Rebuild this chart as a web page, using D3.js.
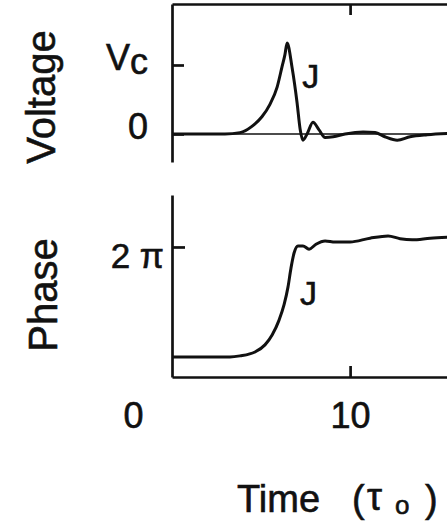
<!DOCTYPE html>
<html>
<head>
<meta charset="utf-8">
<script src="https://cdn.jsdelivr.net/npm/d3@7"></script>
<style>
  body { margin: 0; background: #fff; }
  svg { display: block; font-family: "Liberation Sans", Arial, sans-serif; }
  svg text { stroke: #111; stroke-width: 0.6px; }
</style>
</head>
<body>
<svg id="chart" width="447" height="521"></svg>
<script>
// time in units of tau_0
const voltageTime = [1.8, 4.24, 4.93, 5.48, 5.94, 6.31, 6.64, 6.87, 7.0, 7.10, 7.33, 7.56, 7.70, 7.83, 8.02, 8.29, 8.57, 8.85, 9.22, 9.77, 10.6, 11.15, 11.6, 12.17, 12.76, 13.55, 14.6];
// voltage in units of Vc
const voltageValues = [0, 0, 0.02, 0.11, 0.25, 0.43, 0.68, 0.98, 1.15, 1.32, 0.96, 0.45, 0.07, -0.09, 0.0, 0.17, 0.06, -0.05, -0.04, 0.0, 0.03, 0.02, -0.04, -0.09, -0.04, -0.01, 0.01];

const phaseTime = [1.8, 4.47, 4.93, 5.62, 6.08, 6.41, 6.73, 6.96, 7.14, 7.28, 7.42, 7.60, 7.83, 8.11, 8.43, 8.85, 9.31, 10.0, 10.92, 11.75, 12.30, 12.86, 13.69, 14.6];
// phase in units of pi
const phaseValues = [0, 0, 0.02, 0.09, 0.22, 0.40, 0.67, 0.95, 1.27, 1.62, 1.89, 2.02, 2.02, 1.96, 2.05, 2.11, 2.09, 2.09, 2.16, 2.20, 2.15, 2.13, 2.16, 2.18];

const timeTicks = [0, 10];
const voltageTicks = [0, 1];
const voltageTickLabels = ["0", "Vc"];
const phaseTicks = [2];
const phaseTickLabels = ["2 π"];

const ink = "#111";
const svg = d3.select("#chart");

svg.append("rect").attr("width", 447).attr("height", 521).attr("fill", "#fff");

/**
 * scales
 */
const x = d3.scaleLinear().domain([1.8, 14.6]).range([172, 450]);
const yV = d3.scaleLinear().domain([-0.406, 1.884]).range([162, 4]);
const yP = d3.scaleLinear().domain([-0.364, 2.945]).range([377, 195]);

function styleAxis(g) {
    g.select(".domain").attr("stroke", ink).attr("stroke-width", 2.7);
    g.selectAll(".tick line").attr("stroke", ink).attr("stroke-width", 2.7);
    g.selectAll("text").attr("fill", ink).attr("font-size", 36);
    return g;
}

// ---- voltage panel ----
// zero reference line
svg.append("line")
    .attr("x1", x(1.8)).attr("x2", x(14.6))
    .attr("y1", yV(0)).attr("y2", yV(0))
    .attr("stroke", ink).attr("stroke-width", 1.7);

svg.append("g")
    .attr("transform", `translate(0,${yV.range()[1]})`)
    .call(d3.axisTop(x).tickValues([10]).tickSize(-11).tickSizeOuter(0).tickFormat(""))
    .call(styleAxis);

const vAxis = svg.append("g")
    .attr("transform", `translate(${x(1.8)},0)`)
    .call(d3.axisLeft(yV).tickValues(voltageTicks).tickSize(-12).tickSizeOuter(0)
        .tickPadding(24).tickFormat((d, i) => voltageTickLabels[i]))
    .call(styleAxis);
vAxis.selectAll("text").attr("dy", 5)
    .each(function(d) {
        if (d === 1) {
            const t = d3.select(this).text("");
            t.append("tspan").text("V");
            t.append("tspan").attr("dy", 4).text("c");
        }
    });

const line = d3.line().curve(d3.curveMonotoneX);

svg.append("path")
    .attr("d", line(voltageTime.map((t, i) => [x(t), yV(voltageValues[i])])))
    .attr("fill", "none").attr("stroke", ink).attr("stroke-width", 3)
    .attr("stroke-linejoin", "round");

svg.append("text")
    .attr("x", x(7.8)).attr("y", yV(0.66))
    .attr("font-size", 34).attr("fill", ink).text("J");

svg.append("text")
    .attr("transform", "translate(55,97) rotate(-90)")
    .attr("text-anchor", "middle")
    .attr("font-size", 40).attr("fill", ink).text("Voltage");

// ---- phase panel ----
svg.append("g")
    .attr("transform", `translate(0,${yP.range()[0]})`)
    .call(d3.axisBottom(x).tickValues([10]).tickSize(-11).tickSizeOuter(0).tickFormat(""))
    .call(styleAxis);

const pAxis = svg.append("g")
    .attr("transform", `translate(${x(1.8)},0)`)
    .call(d3.axisLeft(yP).tickValues(phaseTicks).tickSize(-13).tickSizeOuter(0)
        .tickPadding(8).tickFormat((d, i) => phaseTickLabels[i]))
    .call(styleAxis);
pAxis.selectAll("text").attr("dy", 21).attr("font-size", 35);

svg.append("path")
    .attr("d", line(phaseTime.map((t, i) => [x(t), yP(phaseValues[i])])))
    .attr("fill", "none").attr("stroke", ink).attr("stroke-width", 3)
    .attr("stroke-linejoin", "round");

svg.append("text")
    .attr("x", x(7.69)).attr("y", yP(0.945))
    .attr("font-size", 34).attr("fill", ink).text("J");

svg.append("text")
    .attr("transform", "translate(57,295) rotate(-90)")
    .attr("text-anchor", "middle")
    .attr("font-size", 40).attr("fill", ink).text("Phase");

// ---- time labels ----
const tAxis = svg.append("g")
    .attr("transform", "translate(0,402)")
    .call(d3.axisBottom(x).tickValues(timeTicks).tickSize(0).tickPadding(0).tickFormat(d3.format("d")));
tAxis.select(".domain").remove();
tAxis.selectAll("text").attr("fill", ink).attr("font-size", 36).attr("dy", "0.71em");

// axis title, piece by piece
const titleParts = [
    { text: "Time", x: 237, y: 512, size: 38 },
    { text: "(", x: 352, y: 512, size: 38 },
    { text: "τ", x: 367, y: 510, size: 38 },
    { text: "o", x: 395, y: 514, size: 26 },
    { text: ")", x: 425, y: 512, size: 38 }
];
svg.append("g").selectAll("text")
    .data(titleParts)
    .join("text")
    .attr("x", d => d.x).attr("y", d => d.y)
    .attr("font-size", d => d.size).attr("fill", ink)
    .text(d => d.text);
</script>
</body>
</html>
